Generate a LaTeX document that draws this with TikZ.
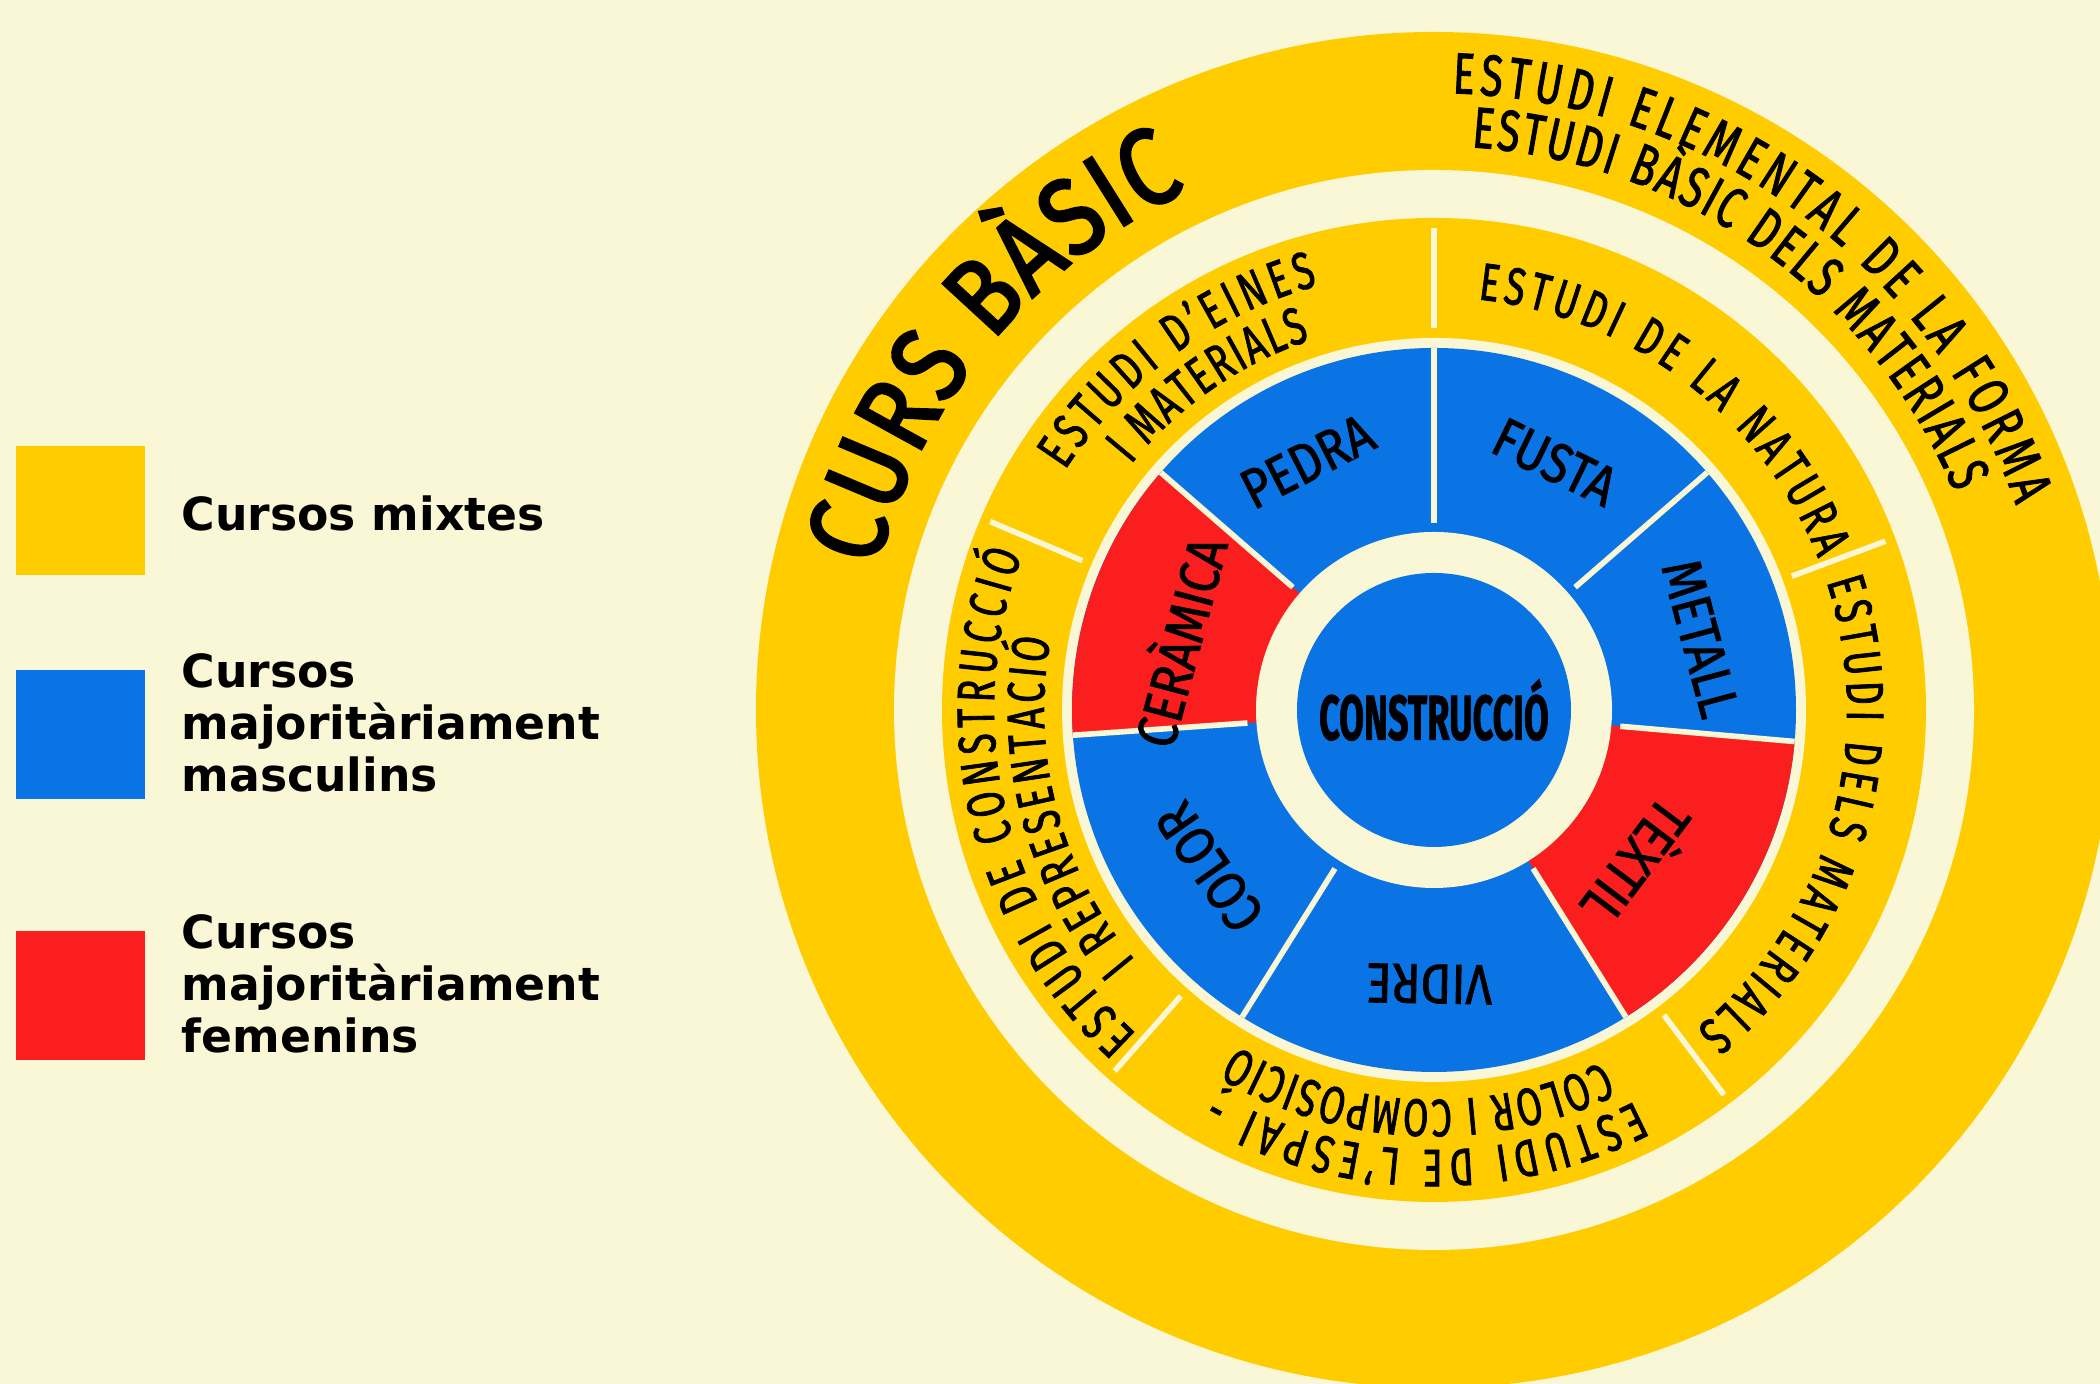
\documentclass[tikz,border=0pt]{standalone}
\usepackage{fontspec}
\usepackage{graphicx}
\usetikzlibrary{decorations.text}
\setmainfont{Fira Sans}
\newfontfamily\ringFont[FakeStretch=0.7,FakeBold=1.5]{Fira Sans}
\newfontfamily\cursFont[FakeStretch=0.85,FakeBold=2.5]{Fira Sans}
\newfontfamily\innerFont[FakeStretch=0.85,FakeBold=1.5]{Fira Sans}
\newfontfamily\legendFont{DejaVu Sans}
\definecolor{bgCream}{RGB}{250,247,214}
\definecolor{ringYellow}{RGB}{255,204,0}
\definecolor{courseBlue}{RGB}{10,116,228}
\definecolor{courseRed}{RGB}{250,30,30}
\newcommand{\ringText}{\ringFont\fontsize{15}{17}\selectfont}
\newcommand{\outerText}{\ringFont\fontsize{16.5}{19}\selectfont}
\newcommand{\cursText}{\cursFont\fontsize{31}{35}\selectfont}
\newcommand{\arcText}[5]{%%
  %% #1 font, #2 radius, #3 start angle, #4 end angle, #5 text
  \path[decorate,decoration={text along path,text align=fit to path,%%
    text={|#1|#5}}]
    (#3:#2) arc[start angle=#3,end angle=#4,radius=#2];
}
\newcommand{\courseLabel}[4]{%%
  \node[innerLabel,rotate=#2-90] (#1) at (#2:#3) {#4};
}

\begin{document}
\begin{tikzpicture}[%%
  dividerStyle/.style={draw=bgCream,line width=1.6pt},%%
  innerLabel/.style={font=\innerFont\fontsize{16}{18}\selectfont,inner sep=0pt},%%
  legendBox/.style={minimum size=1.29cm,inner sep=0pt},%%
  legendText/.style={font=\legendFont\bfseries\fontsize{13}{14.8}\selectfont,%%
    align=left,anchor=west,inner sep=0pt}
]
%%
%% The page.
\useasboundingbox (0,0) rectangle (21,13.84);
\clip (0,0) rectangle (21,13.84);
\fill[bgCream] (0,0) rectangle (21,13.84);
%%
%% The radii of the rings.
\pgfmathsetmacro{\rCore}{1.37}
\pgfmathsetmacro{\rHole}{1.78}
\pgfmathsetmacro{\rCourse}{3.62}
\pgfmathsetmacro{\rMidIn}{3.72}
\pgfmathsetmacro{\rMid}{4.92}
\pgfmathsetmacro{\rOuterIn}{5.40}
\pgfmathsetmacro{\rOuter}{6.78}
%%
%% The legend.
\node[legendBox,fill=ringYellow] (mixBox) at (0.805,8.73) {};
\node[legendBox,fill=courseBlue] (maleBox) at (0.805,6.49) {};
\node[legendBox,fill=courseRed] (femaleBox) at (0.805,3.885) {};
\node[legendText] (mixText) at (1.81,8.71) {Cursos mixtes};
\node[legendText] (maleText) at (1.81,6.61) {Cursos\\majoritàriament\\masculins};
\node[legendText] (femaleText) at (1.81,4.00) {Cursos\\majoritàriament\\femenins};
%%
%% The rings.
\begin{scope}[shift={(14.34,6.74)}]
  \fill[ringYellow] (0,0) circle[radius=\rOuter];
  \fill[bgCream] (0,0) circle[radius=\rOuterIn];
  \fill[ringYellow] (0,0) circle[radius=\rMid];
  \fill[bgCream] (0,0) circle[radius=\rMidIn];
  \fill[courseBlue] (0,0) circle[radius=\rCourse];
  \fill[courseRed] (0,0) -- (139:\rCourse) arc[start angle=139,end angle=184,radius=\rCourse] -- cycle;
  \fill[courseRed] (0,0) -- (-58:\rCourse) arc[start angle=-58,end angle=-5,radius=\rCourse] -- cycle;
  \fill[bgCream] (0,0) circle[radius=\rHole];
  \fill[courseBlue] (0,0) circle[radius=\rCore];
  %%
  %% The dividers.
  \foreach \a in {90,41,-5,-58,-122,184,139}
    \draw[dividerStyle] (\a:1.87) -- (\a:\rCourse);
  \foreach \a in {90,20.5,-53,-131.5,157}
    \draw[dividerStyle] (\a:3.82) -- (\a:4.82);
  %%
  %% The outer ring.
  \arcText{\cursText}{5.75}{165.7}{115.4}{CURS BÀSIC}
  \arcText{\outerText}{6.17}{88.3}{19.4}{ESTUDI ELEMENTAL DE LA FORMA}
  \arcText{\outerText}{5.64}{86.2}{22.7}{ESTUDI BÀSIC DELS MATERIALS}
  %%
  %% The middle ring.
  \arcText{\ringText}{4.13}{83.9}{21.5}{ESTUDI DE LA NATURA}
  \arcText{\ringText}{4.40}{147}{105.3}{ESTUDI D’EINES}
  \arcText{\ringText}{3.90}{141}{108.5}{I MATERIALS}
  \arcText{\ringText}{4.13}{18.1}{-50.6}{ESTUDI DELS MATERIALS}
  \arcText{\ringText}{4.40}{-62.8}{-119.5}{ESTUDI DE L’ESPAI -}
  \arcText{\ringText}{3.90}{-64.4}{-120.5}{COLOR I COMPOSICIÓ}
  \arcText{\ringText}{4.40}{227.5}{159.4}{ESTUDI DE CONSTRUCCIÓ}
  \arcText{\ringText}{3.90}{220}{169.5}{I REPRESENTACIÓ}
  %%
  %% The courses.
  \courseLabel{pedra}{117}{2.79}{PEDRA}
  \courseLabel{fusta}{64}{2.76}{FUSTA}
  \courseLabel{metall}{15}{2.76}{METALL}
  \courseLabel{textil}{-37}{2.58}{TÈXTIL}
  \courseLabel{vidre}{-91}{2.74}{VIDRE}
  \courseLabel{color}{215}{2.74}{COLOR}
  \courseLabel{ceramica}{165}{2.67}{CERÀMICA}
  \node[font=\innerFont\bfseries\fontsize{18}{20}\selectfont,inner sep=0pt] (construccio) at (0,0)
    {\scalebox{0.67}[1]{CONSTRUCCIÓ}};
\end{scope}
\end{tikzpicture}
\end{document}
